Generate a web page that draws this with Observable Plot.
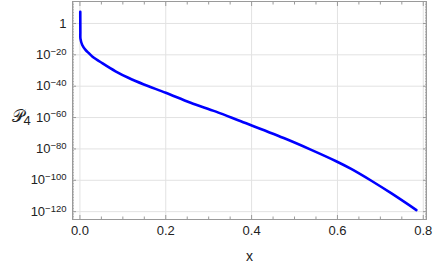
<!DOCTYPE html>
<html>
<head>
<meta charset="utf-8">
<script src="https://cdn.jsdelivr.net/npm/d3@7"></script>
<script src="https://cdn.jsdelivr.net/npm/@observablehq/plot@0.6"></script>
<style>
  html, body { margin: 0; padding: 0; background: #fff; }
  #chart svg { font-family: "Liberation Sans", Arial, sans-serif; }
</style>
</head>
<body>
<div id="chart"></div>
<script>
// Curve samples: x and log10 of P4
const xValues = [0.0008, 0.0009, 0.001, 0.0012, 0.0054, 0.013, 0.021, 0.0287, 0.052, 0.083, 0.114, 0.149, 0.2, 0.258, 0.317, 0.375, 0.4805, 0.539, 0.597, 0.632, 0.679, 0.726, 0.784];
const log10P4 = [7.4, 0.0, -6.0, -9.7, -13.7, -16.8, -19.0, -21.0, -25.3, -30.5, -34.8, -38.9, -44.2, -50.6, -56.2, -62.4, -73.7, -80.6, -87.85, -92.75, -100.3, -108.4, -119.0];

// Axis ticks
const xMajorTicks = [0, 0.2, 0.4, 0.6, 0.8];
const xMinorTicks = [0.05, 0.1, 0.15, 0.25, 0.3, 0.35, 0.45, 0.5, 0.55, 0.65, 0.7, 0.75];
const yMajorExps = [0, -20, -40, -60, -80, -100, -120];
const yMinorExps = d3.range(13, -126, -1).filter(e => e % 20 !== 0);

const xDomain = [-0.0173, 0.8075];
const yDomain = [1e-125, 1e14];

const data = xValues.map((x, i) => ({x, y: Math.pow(10, log10P4[i])}));
const yMajor = yMajorExps.map(e => Math.pow(10, e));
const yMinor = yMinorExps.map(e => Math.pow(10, e));

const frameColor = "#9a9a9a";
const gridColor = "#e2e2e2";

const plot = Plot.plot({
  width: 434,
  height: 270,
  marginLeft: 72,
  marginRight: 8,
  marginTop: 1,
  marginBottom: 51,
  style: {fontFamily: "Liberation Sans, Arial, sans-serif", fontSize: "13px", color: "#222"},
  x: {domain: xDomain, label: null},
  y: {type: "log", domain: yDomain, label: null},
  marks: [
    Plot.gridX(xMajorTicks, {stroke: gridColor, strokeOpacity: 1}),
    Plot.gridY(yMajor, {stroke: gridColor, strokeOpacity: 1}),
    // major tick labels
    Plot.axisX(xMajorTicks, {anchor: "bottom", tickSize: 0, tickPadding: 6, tickFormat: d3.format(".1f"), fill: "#222", fontSize: 13}),
    Plot.axisY(yMajor, {anchor: "left", tickSize: 0, tickPadding: 6, fill: "#222", fontSize: 13,
      tickFormat: d => { const e = Math.round(Math.log10(d)); return e === 0 ? "1" : "10^" + e; }}),
    // inward frame ticks
    Plot.axisX(xMajorTicks, {anchor: "bottom", tickSize: -4, text: null, stroke: frameColor, strokeOpacity: 1}),
    Plot.axisX(xMinorTicks, {anchor: "bottom", tickSize: -2.5, text: null, stroke: frameColor, strokeOpacity: 1}),
    Plot.axisX(xMajorTicks, {anchor: "top", tickSize: -4, text: null, stroke: frameColor, strokeOpacity: 1}),
    Plot.axisX(xMinorTicks, {anchor: "top", tickSize: -2.5, text: null, stroke: frameColor, strokeOpacity: 1}),
    Plot.axisY(yMajor, {anchor: "left", tickSize: -4, text: null, stroke: frameColor, strokeOpacity: 1}),
    Plot.axisY(yMinor, {anchor: "left", tickSize: -2, text: null, stroke: frameColor, strokeOpacity: 0.8}),
    Plot.axisY(yMajor, {anchor: "right", tickSize: -4, text: null, stroke: frameColor, strokeOpacity: 1}),
    Plot.axisY(yMinor, {anchor: "right", tickSize: -2, text: null, stroke: frameColor, strokeOpacity: 0.8}),
    Plot.frame({stroke: frameColor}),
    Plot.line(data, {x: "x", y: "y", stroke: "#0000ff", strokeWidth: 2.6, curve: "catmull-rom"}),
    Plot.text(["x"], {frameAnchor: "bottom", dy: 41, text: d => d, fontSize: 14, fill: "#222"}),
    Plot.text(["P4"], {frameAnchor: "left", dx: -61, dy: 6, text: d => "𝒫", fontSize: 17, fill: "#222", textAnchor: "start"})
  ]
});

// Superscripts for "10^e" labels and subscript for the P label
d3.select(plot).selectAll("text").each(function() {
  const t = this.textContent;
  const m = /^10\^(-?\d+)$/.exec(t);
  if (m) {
    const el = d3.select(this);
    el.text("10");
    el.append("tspan").attr("dy", "-0.45em").attr("font-size", "9.5px").text(m[1].replace("-", "\u2212"));
  } else if (t === "𝒫") {
    d3.select(this).append("tspan").attr("dy", "0.25em").attr("font-size", "13px").attr("font-family", "Liberation Sans, Arial, sans-serif").text("4");
  }
});

document.getElementById("chart").appendChild(plot);
</script>
</body>
</html>
